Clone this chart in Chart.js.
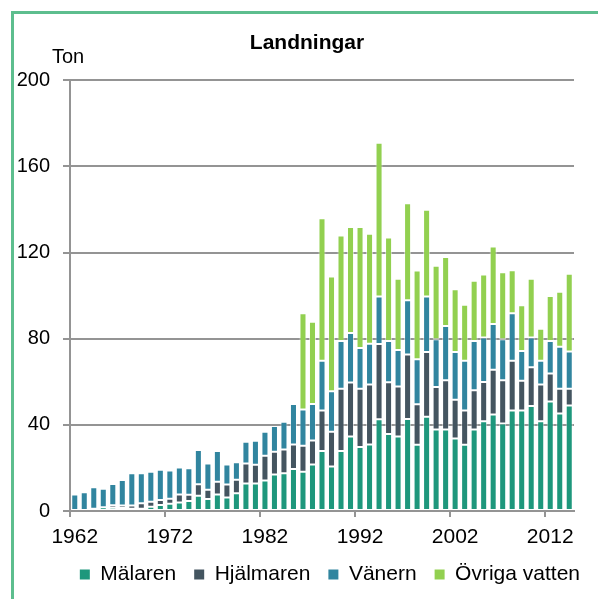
<!DOCTYPE html>
<html>
<head>
<meta charset="utf-8">
<script src="https://cdn.jsdelivr.net/npm/chart.js@4"></script>
<style>
  html, body { margin: 0; padding: 0; background: #fff; overflow: hidden; }
  #frame {
    position: absolute; left: 11px; top: 11px; width: 700px; height: 700px;
    border-left: 3px solid #5dbe8e; border-top: 3px solid #5dbe8e;
  }
  #myChart { position: absolute; left: 0; top: 0; }
</style>
</head>
<body>
<div id="frame"></div>
<canvas id="myChart" width="598" height="595"></canvas>
<script>
var years = [1962, 1963, 1964, 1965, 1966, 1967, 1968, 1969, 1970, 1971,
  1972, 1973, 1974, 1975, 1976, 1977, 1978, 1979, 1980, 1981,
  1982, 1983, 1984, 1985, 1986, 1987, 1988, 1989, 1990, 1991,
  1992, 1993, 1994, 1995, 1996, 1997, 1998, 1999, 2000, 2001,
  2002, 2003, 2004, 2005, 2006, 2007, 2008, 2009, 2010, 2011,
  2012, 2013, 2014];
var yearLabels = [1962, 1972, 1982, 1992, 2002, 2012];

var malaren = [0, 0, 1, 1.7, 1.5, 1.4, 1, 1.1, 2, 2.8,
  3.4, 4, 4.6, 7.1, 5.6, 7.7, 6.3, 8.2, 12.8, 12.8,
  14.2, 17, 17.5, 19.5, 18.2, 21.6, 27.8, 20.7, 27.8, 34.6,
  29.7, 30.9, 42.6, 35.7, 34.6, 42.7, 30.7, 43.7, 37.8, 37.8,
  33.7, 30.7, 37.8, 41.7, 44.8, 40.6, 46.6, 46.6, 48.7, 41.7,
  50.8, 45.3, 49];
var hjalmaren = [0, 0, 0, 0, 1.2, 1.1, 1.5, 2.5, 2.3, 2.3,
  2.3, 3.7, 2.9, 5.3, 4.3, 5.9, 6, 6.3, 9.3, 8.7,
  11.4, 10.5, 11.1, 11.4, 12.1, 11.1, 18.8, 16.1, 28.9, 25,
  27, 27.8, 34.9, 24.1, 23.2, 30, 18.9, 30.1, 19.8, 22.9,
  18, 15.9, 18.3, 18.2, 20.8, 20.1, 23.1, 13.9, 18, 17,
  13, 11.4, 7.7];
var vanern = [7.7, 8.7, 10, 8.6, 9.8, 11.9, 15, 13.9, 13.9, 14,
  13.1, 12.5, 12.4, 15.9, 12.1, 14.2, 9.3, 8.1, 10, 11.1,
  11.2, 12, 12.8, 18.8, 16.8, 17, 23.1, 18.8, 22.2, 23,
  19, 19, 22.1, 19.1, 17, 25.1, 20.8, 25.8, 22.1, 25.2,
  22.1, 23.1, 22.8, 20.7, 21.2, 19, 22.1, 13.8, 13.9, 11,
  15.1, 19.6, 17.3];
var ovriga = [0, 0, 0, 0, 0, 0, 0, 0, 0, 0,
  0, 0, 0, 0, 0, 0, 0, 0, 0, 0,
  0, 0, 0, 0, 44.7, 38.2, 66.2, 53.3, 49, 49.2,
  56.1, 51, 71.4, 48.1, 33, 45.1, 41.3, 40.2, 34.1, 32,
  29.1, 26.1, 28, 29.2, 36, 31.1, 20, 21.2, 27.2, 14.9,
  20.9, 25.5, 36.1];

var seriesNames = ["Mälaren", "Hjälmaren", "Vänern", "Övriga vatten"];
var seriesColors = ["#1e977c", "#445560", "#31859f", "#92d050"];
var yUnit = "Ton";

var FONT = '"Liberation Sans", Arial, sans-serif';
var GRID = "#949494";

Chart.defaults.font.family = FONT;
Chart.defaults.color = "#000";

function makeSet(i, values) {
  return {
    label: seriesNames[i],
    data: values,
    backgroundColor: seriesColors[i],
    borderColor: "rgba(255,255,255,0.55)",
    borderWidth: 1,
    borderSkipped: false,
    barPercentage: 0.74,
    categoryPercentage: 1,
  };
}

// "Ton" above the value axis
const unitLabel = {
  id: "unitLabel",
  afterDraw: function (chart) {
    const ctx = chart.ctx;
    const area = chart.chartArea;
    ctx.save();
    ctx.font = "20px " + FONT;
    ctx.fillStyle = "#000";
    ctx.textAlign = "center";
    ctx.textBaseline = "middle";
    ctx.fillText(yUnit, area.left - 2, area.top - 23);
    ctx.restore();
  },
};

const ctx = document.getElementById("myChart").getContext("2d");

const myChart = new Chart(ctx, {
  type: "bar",
  data: {
    labels: years,
    datasets: [
      makeSet(0, malaren),
      makeSet(1, hjalmaren),
      makeSet(2, vanern),
      makeSet(3, ovriga),
    ],
  },
  options: {
    responsive: false,
    animation: false,
    layout: { padding: { left: 16, right: 0, top: 0, bottom: 0 } },
    plugins: {
      title: {
        display: true,
        text: "Landningar",
        font: { size: 21, weight: "bold" },
        padding: { top: 31, bottom: 24 },
      },
      legend: {
        position: "bottom",
        align: "end",
        labels: {
          boxWidth: 10,
          boxHeight: 10,
          padding: 18,
          font: { size: 21 },
          generateLabels: function (chart) {
            return Chart.defaults.plugins.legend.labels
              .generateLabels(chart)
              .map(function (l) { l.lineWidth = 0; return l; });
          },
        },
      },
      tooltip: { enabled: false },
    },
    scales: {
      x: {
        stacked: true,
        grid: {
          offset: true,
          drawOnChartArea: false,
          tickLength: 6,
          lineWidth: 2,
          tickColor: function (c) {
            return c.index % 10 === 0 ? GRID : "rgba(0,0,0,0)";
          },
        },
        border: { color: GRID, width: 2 },
        ticks: {
          autoSkip: false,
          maxRotation: 0,
          padding: 10,
          font: { size: 21, lineHeight: 1 },
          callback: function (v, i) {
            return yearLabels.indexOf(years[i]) >= 0 ? String(years[i]) : "";
          },
        },
        afterFit: function (scale) { scale.height = 35; },
      },
      y: {
        stacked: true,
        min: 0,
        max: 200,
        grid: { color: GRID, lineWidth: 2, tickLength: 7 },
        border: { color: GRID, width: 2 },
        ticks: { stepSize: 40, padding: 13, font: { size: 20 } },
        afterFit: function (scale) { scale.width = 54; },
      },
      // empty right-hand gutter, same as the plot inset in the original
      yGap: {
        position: "right",
        grid: { display: false },
        border: { display: false },
        ticks: { display: false },
        afterFit: function (scale) { scale.width = 24; },
      },
    },
  },
  plugins: [unitLabel],
});
</script>
</body>
</html>
